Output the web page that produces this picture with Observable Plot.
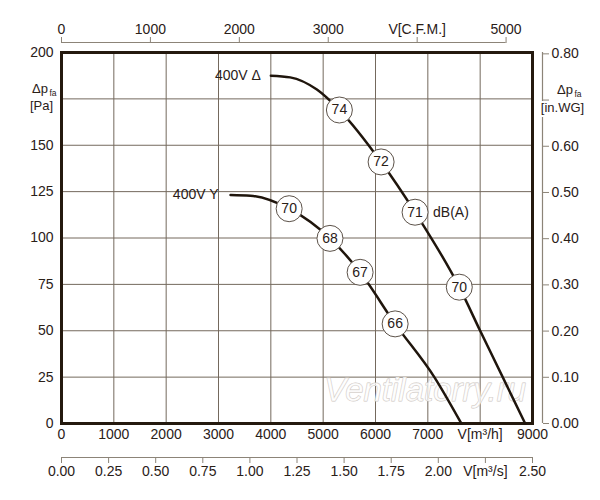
<!DOCTYPE html>
<html><head><meta charset="utf-8">
<script src="https://cdn.jsdelivr.net/npm/d3@7"></script>
<script src="https://cdn.jsdelivr.net/npm/@observablehq/plot@0.6"></script>
<style>body{margin:0;background:#fff}</style>
</head><body><div id="chart"></div>
<script>
// ---- data ----
const CFM = 1.69901;      // m³/h per CFM
const INWG = 249.089;     // Pa per in.WG
const M3S = 3600;         // m³/h per m³/s

const flowTicks = [0,1000,2000,3000,4000,5000,6000,7000,8000,9000];
const flowLabels = ["0","1000","2000","3000","4000","5000","6000","7000","V[m³/h]","9000"];
const paTicks = [0,25,50,75,100,125,150,200];
const gridFlow = [1000,2000,3000,4000,5000,6000,7000,8000];
const gridPa = [25,50,75,100,125,150,175];
const cfmTicks = [0,1000,2000,3000,4000,5000];
const cfmLabels = ["0","1000","2000","3000","V[C.F.M.]","5000"];
const m3sTicks = [0,0.25,0.5,0.75,1,1.25,1.5,1.75,2,2.25,2.5];
const m3sLabels = ["0.00","0.25","0.50","0.75","1.00","1.25","1.50","1.75","2.00","V[m³/s]","2.50"];
const inwgTicks = [0,0.1,0.2,0.3,0.4,0.5,0.6,0.7,0.8];
const inwgLabels = ["0.00","0.10","0.20","0.30","0.40","0.50","0.60","","0.80"];

const deltaFlow = [4000,4370,4880,5310,6107,6756,7601,8000,8860];
const deltaPa   = [187.5,186.6,180,169,141,113.9,73.5,50,0];
const starFlow  = [3230,3610,4350,5130,5706,6375,7124,7640];
const starPa    = [123.2,122.8,115.8,99.8,81.5,53.7,25,0];

const deltaDbFlow = [5310,6107,6756,7601];
const deltaDbPa   = [169,141,113.9,73.5];
const deltaDb     = [74,72,71,70];
const starDbFlow  = [4350,5130,5706,6375];
const starDbPa    = [115.8,99.8,81.5,53.7];
const starDb      = [70,68,67,66];

// ---- tables ----
const delta = deltaFlow.map((x,i)=>({x, y:deltaPa[i]}));
const star = starFlow.map((x,i)=>({x, y:starPa[i]}));
const dbPts = [
  ...deltaDbFlow.map((x,i)=>({x, y:deltaDbPa[i], t:String(deltaDb[i])})),
  ...starDbFlow.map((x,i)=>({x, y:starDbPa[i], t:String(starDb[i])}))
];
const flowMap = new Map(flowTicks.map((d,i)=>[d, flowLabels[i]]));
const cfmPos = cfmTicks.map(c=>c*CFM);
const cfmMap = new Map(cfmPos.map((d,i)=>[d, cfmLabels[i]]));
const m3sPos = m3sTicks.map(v=>v*M3S);
const m3sMap = new Map(m3sPos.map((d,i)=>[d, m3sLabels[i]]));
const inwgPos = inwgTicks.map(v=>v*INWG);
const inwgMap = new Map(inwgPos.map((d,i)=>[d, inwgLabels[i]]));

const ink = "#2a2018";
const grid = "#74695d";
const axis2 = "#8c8478";
const font = "'Liberation Sans', Arial, sans-serif";

const chart = Plot.plot({
  width: 600, height: 500,
  marginLeft: 61, marginRight: 68, marginTop: 52, marginBottom: 77,
  style: {fontFamily: font, fontSize: "14px", color: ink, background: "white", overflow: "visible"},
  x: {domain: [0, 9000], label: null},
  y: {domain: [0, 200], label: null},
  marks: [
    Plot.ruleX(gridFlow, {stroke: grid, strokeWidth: 1}),
    Plot.ruleY(gridPa, {stroke: grid, strokeWidth: 1}),
    Plot.text([{x: 6950, y: 18}], {x: "x", y: "y", text: () => "Ventilatorry.ru", fontSize: 33, fontStyle: "italic",
      fill: "white", fillOpacity: 0.7, stroke: "#cdc6bf", strokeWidth: 0.9}),
    // main axes
    Plot.axisX(flowTicks, {anchor: "bottom", label: null, tickSize: 0, tickPadding: 6, tickFormat: d => flowMap.get(d), fill: ink, fontSize: 14}),
    Plot.axisY(paTicks, {anchor: "left", label: null, tickSize: 0, tickPadding: 8, tickFormat: d => String(d), fill: ink, fontSize: 14}),
    // top CFM axis
    Plot.ruleY([200], {x1: () => 0, x2: () => 5000*CFM, dy: -10, stroke: axis2, strokeWidth: 1.2}),
    Plot.axisX(cfmPos, {anchor: "top", label: null, dy: -10, tickSize: 6, tickPadding: 3, tickFormat: d => cfmMap.get(d), stroke: axis2, fill: ink, fontSize: 14}),
    // bottom m3/s axis
    Plot.ruleY([0], {x1: () => 0, x2: () => 9000, dy: 34, stroke: axis2, strokeWidth: 1.2}),
    Plot.axisX(m3sPos, {anchor: "bottom", label: null, dy: 34, tickSize: 6, tickPadding: 3, tickFormat: d => m3sMap.get(d), stroke: axis2, fill: ink, fontSize: 14}),
    // right in.WG axis
    Plot.ruleX([9000], {y1: () => 0, y2: () => 200, dx: 10, stroke: axis2, strokeWidth: 1.2}),
    Plot.axisY(inwgPos, {anchor: "right", label: null, dx: 10, tickSize: 6, tickPadding: 3, tickFormat: d => inwgMap.get(d), stroke: axis2, fill: ink, fontSize: 14}),
    // axis titles
    Plot.text([{x: 0, y: 175}], {x: "x", y: "y", text: () => "Δp", textAnchor: "end", dx: -13.5, dy: -10, fontSize: 13, fill: ink}),
    Plot.text([{x: 0, y: 175}], {x: "x", y: "y", text: () => "fa", textAnchor: "start", dx: -12, dy: -6, fontSize: 8.5, fill: ink}),
    Plot.text([{x: 0, y: 175}], {x: "x", y: "y", text: () => "[Pa]", textAnchor: "middle", dx: -20, dy: 7, fontSize: 13, fill: ink}),
    Plot.text([{x: 9000, y: 0.7*INWG}], {x: "x", y: "y", text: () => "Δp", textAnchor: "end", dx: 40.5, dy: -10, fontSize: 13, fill: ink,
      stroke: "white", strokeWidth: 4}),
    Plot.text([{x: 9000, y: 0.7*INWG}], {x: "x", y: "y", text: () => "fa", textAnchor: "start", dx: 42, dy: -6, fontSize: 8.5, fill: ink}),
    Plot.text([{x: 9000, y: 0.7*INWG}], {x: "x", y: "y", text: () => "[in.WG]", textAnchor: "middle", dx: 30, dy: 8, fontSize: 13, fill: ink,
      stroke: "white", strokeWidth: 4}),
    // frame
    Plot.frame({stroke: "#24190e", strokeWidth: 3}),
    // curves
    Plot.line(delta, {x: "x", y: "y", curve: "monotone-x", stroke: "#1f150c", strokeWidth: 2.5}),
    Plot.line(star, {x: "x", y: "y", curve: "monotone-x", stroke: "#1f150c", strokeWidth: 2.5}),
    Plot.text([delta[0]], {x: "x", y: "y", text: () => "400V Δ", textAnchor: "end", dx: -10, fontSize: 14, fill: ink}),
    Plot.text([star[0]], {x: "x", y: "y", text: () => "400V Y", textAnchor: "end", dx: -12, fontSize: 14, fill: ink}),
    Plot.dot(dbPts, {x: "x", y: "y", r: 13, fill: "white", stroke: "#5c5249", strokeWidth: 1}),
    Plot.text(dbPts, {x: "x", y: "y", text: "t", fontSize: 14, fill: ink}),
    Plot.text([{x: deltaDbFlow[2], y: deltaDbPa[2]}], {x: "x", y: "y", text: () => "dB(A)", textAnchor: "start", dx: 18, fontSize: 14, fill: ink})
  ]
});
document.getElementById("chart").appendChild(chart);
</script>
</body></html>
